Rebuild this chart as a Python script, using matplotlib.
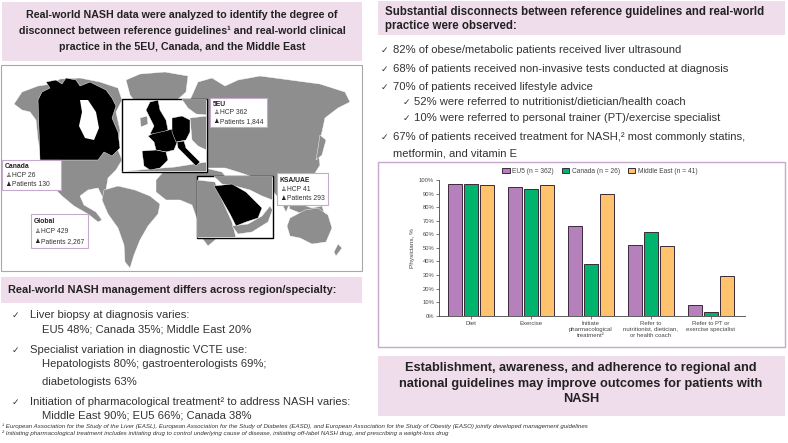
import matplotlib
matplotlib.use("Agg")
import matplotlib.pyplot as plt
from matplotlib.patches import Rectangle, Polygon
import numpy as np

plt.rcParams['font.family'] = ['Liberation Sans', 'DejaVu Sans']

# chart data
categories = ["Diet", "Exercise", "Initiate\npharmacological\ntreatment²",
              "Refer to\nnutritionist, dietician,\nor health coach",
              "Refer to PT or\nexercise specialist"]
series_labels = ["EU5 (n = 362)", "Canada (n = 26)", "Middle East (n = 41)"]
eu5 = [97, 95, 66, 52, 8]
canada = [97, 93, 38, 62, 3]
middle_east = [96, 96, 90, 51, 29]
yticks = list(range(0, 101, 10))

# map call-outs
map_labels = [
    ("5EU", "HCP 362", "Patients 1,844"),
    ("Canada", "HCP 26", "Patients 130"),
    ("KSA/UAE", "HCP 41", "Patients 293"),
    ("Global", "HCP 429", "Patients 2,267"),
]

PINK = "#F0DDEC"
PURPLE_EDGE = "#C6AACB"
LAND = "#8E8E8E"
colors = ["#B580BC", "#00B46E", "#FFC36E"]

fig = plt.figure(figsize=(7.88, 4.43), dpi=100)
bg = fig.add_axes([0, 0, 1, 1])
bg.set_xlim(0, 788)
bg.set_ylim(443, 0)
bg.axis('off')


def box(x0, y0, x1, y1, fc='white', ec='none', lw=0.8, z=1):
    bg.add_patch(Rectangle((x0, y0), x1 - x0, y1 - y0, facecolor=fc,
                           edgecolor=ec, linewidth=lw, zorder=z))


def shape(pts, fc=LAND, z=2, ec='white', lw=0.3):
    bg.add_patch(Polygon(pts, closed=True, facecolor=fc, edgecolor=ec,
                         linewidth=lw, zorder=z))


# ---- left column ----
box(2, 2, 362, 61, fc=PINK)
hdr = ["Real-world NASH data were analyzed to identify the degree of",
       "disconnect between reference guidelines¹ and real-world clinical",
       "practice in the 5EU, Canada, and the Middle East"]
for yy, t in zip([15, 31, 47], hdr):
    bg.text(182, yy, t, ha='center', va='center', fontsize=7.7,
            fontweight='bold', color='#222222')

box(1, 65, 362, 271, fc='white', ec='#A8A8A8', lw=0.8)

# rough world map
shape([(14, 104), (22, 92), (38, 86), (52, 84), (60, 79), (80, 78), (100, 82),
       (118, 88), (122, 100), (116, 112), (120, 130), (118, 150), (122, 160),
       (116, 170), (108, 178), (106, 190), (110, 203), (104, 200), (98, 188),
       (88, 190), (80, 196), (84, 205), (96, 212), (102, 220), (98, 222),
       (88, 214), (74, 206), (62, 196), (52, 186), (46, 174), (42, 160),
       (38, 140), (36, 120), (30, 112), (22, 110)])
shape([(38, 100), (42, 92), (50, 88), (46, 82), (56, 80), (62, 84), (66, 78),
       (76, 80), (80, 86), (90, 82), (98, 86), (106, 90), (112, 98), (116, 106),
       (112, 118), (118, 132), (120, 148), (112, 156), (104, 152), (98, 160),
       (40, 160)], fc='black', z=3)
shape([(80, 100), (88, 100), (96, 112), (99, 128), (94, 140), (85, 138),
       (79, 126), (82, 112)], fc='white', z=3.5, lw=0)
shape([(126, 80), (140, 74), (165, 72), (188, 76), (186, 92), (175, 102),
       (160, 110), (150, 118), (140, 108), (130, 95)])
shape([(104, 190), (118, 186), (135, 190), (150, 196), (160, 204), (158, 214),
       (148, 226), (140, 240), (134, 255), (130, 268), (125, 262), (124, 245),
       (118, 228), (108, 214), (102, 200)])
shape([(165, 170), (185, 166), (205, 168), (222, 172), (232, 185), (240, 192),
       (236, 205), (226, 222), (215, 240), (208, 246), (202, 238), (198, 222),
       (192, 205), (180, 200), (166, 200), (156, 192), (156, 180)])
shape([(190, 100), (198, 82), (212, 78), (225, 86), (238, 80), (260, 76),
       (290, 80), (320, 84), (345, 92), (350, 102), (338, 108), (325, 118),
       (322, 132), (318, 150), (320, 165), (312, 178), (300, 185), (292, 198),
       (286, 212), (280, 200), (272, 190), (260, 186), (250, 176), (238, 172),
       (225, 168), (205, 168), (195, 160), (188, 140), (186, 118)])
shape([(288, 202), (300, 204), (312, 208), (322, 206), (324, 212), (300, 213),
       (290, 209)])
shape([(320, 135), (326, 140), (322, 155), (316, 160), (318, 148)])
shape([(290, 218), (305, 210), (318, 208), (328, 215), (332, 228), (326, 242),
       (312, 244), (300, 238), (290, 236), (287, 226)])
shape([(338, 244), (342, 248), (336, 256), (334, 252)])

# 5EU inset
box(122, 99, 207, 172, fc='white', ec='black', lw=1.0, z=4)
shape([(182, 99.5), (206.5, 99.5), (206.5, 115), (196, 114), (188, 108)], z=5)
shape([(190, 118), (206.5, 116), (206.5, 150), (198, 146), (192, 140)], z=5)
shape([(122.5, 171.5), (150, 169), (175, 167), (206.5, 162), (206.5, 171.5)], z=5)
shape([(140, 118), (147, 116), (148, 124), (141, 127)], z=5)
shape([(150, 102), (158, 100), (160, 110), (166, 120), (168, 130), (160, 134),
       (150, 134), (154, 126), (150, 118), (146, 110)], fc='black', z=6)
shape([(152, 134), (165, 131), (176, 128), (178, 140), (174, 150), (166, 152),
       (156, 150), (154, 142), (148, 136)], fc='black', z=6)
shape([(142, 151), (156, 150), (166, 152), (168, 160), (160, 168), (150, 170),
       (144, 166)], fc='black', z=6)
shape([(172, 118), (182, 116), (190, 120), (190, 132), (186, 140), (176, 142),
       (172, 132)], fc='black', z=6)
shape([(177, 142), (184, 141), (186, 148), (194, 156), (200, 162), (196, 166),
       (190, 160), (182, 152), (178, 148)], fc='black', z=6)

# Middle East inset
box(197, 176, 273, 238, fc='white', ec='black', lw=1.0, z=4)
shape([(197.5, 180), (215, 182), (222, 200), (232, 222), (236, 237.5),
       (197.5, 237.5)], z=5)
shape([(214, 176.5), (272.5, 176.5), (272.5, 200), (262, 196), (250, 190),
       (235, 186), (222, 184)], z=5)
shape([(232, 226), (248, 224), (262, 216), (270, 206), (272.5, 210), (268, 222),
       (252, 232), (238, 234)], z=5)
shape([(214, 186), (232, 184), (246, 192), (256, 202), (262, 208), (258, 218),
       (246, 222), (236, 226), (230, 214), (222, 200)], fc='black', z=6)

# call-out boxes
label_boxes = [(210, 98, 267, 127), (2, 160, 61, 190), (277, 173, 328, 205),
               (31, 214, 88, 248)]
for (x0, y0, x1, y1), (title, hcp, pts) in zip(label_boxes, map_labels):
    box(x0, y0, x1, y1, fc='white', ec=PURPLE_EDGE, lw=0.8, z=7)
    step = (y1 - y0) / 3.3
    bg.text(x0 + 3, y0 + step * 0.75, title, fontsize=4.9, fontweight='bold',
            va='center', zorder=8, color='#222222')
    bg.text(x0 + 3, y0 + step * 1.7, "♙", fontsize=4.6, va='center', zorder=8,
            family='DejaVu Sans', color='#333333')
    bg.text(x0 + 10, y0 + step * 1.7, hcp, fontsize=4.9, va='center', zorder=8,
            color='#333333')
    bg.text(x0 + 3, y0 + step * 2.65, "♟", fontsize=4.6, va='center', zorder=8,
            family='DejaVu Sans', color='#222222')
    bg.text(x0 + 10, y0 + step * 2.65, pts, fontsize=4.9, va='center', zorder=8,
            color='#333333')

box(1, 277, 362, 303, fc=PINK)
bg.text(8, 290, "Real-world NASH management differs across region/specialty:",
        fontsize=7.9, fontweight='bold', va='center', color='#222222')

left_lines = [
    (30, 315, "Liver biopsy at diagnosis varies:", True),
    (42, 329, "EU5 48%; Canada 35%; Middle East 20%", False),
    (30, 350, "Specialist variation in diagnostic VCTE use:", True),
    (42, 364, "Hepatologists 80%; gastroenterologists 69%;", False),
    (42, 382, "diabetologists 63%", False),
    (30, 402, "Initiation of pharmacological treatment² to address NASH varies:", True),
    (42, 416, "Middle East 90%; EU5 66%; Canada 38%", False),
]
for x, y, t, chk in left_lines:
    if chk:
        bg.text(12, y, "✓", fontsize=6.5, va='center', color='#333333',
                family='DejaVu Sans')
    bg.text(x, y, t, fontsize=8.1, va='center', color='#333333')

bg.text(2, 426, "¹ European Association for the Study of the Liver (EASL), European Association "
        "for the Study of Diabetes (EASD), and European Association for the Study of Obesity "
        "(EASO) jointly developed management guidelines",
        fontsize=4.4, style='italic', va='center', color='#333333')
bg.text(2, 433.5, "² Initiating pharmacological treatment includes initiating drug to control "
        "underlying cause of disease, initiating off-label NASH drug, and prescribing a "
        "weight-loss drug", fontsize=4.4, style='italic', va='center', color='#333333')

# ---- right column ----
box(378, 1, 785, 35, fc=PINK)
bg.text(385, 12, "Substantial disconnects between reference guidelines and real-world",
        fontsize=8.3, fontweight='bold', va='center', color='#222222')
bg.text(385, 26, "practice were observed:", fontsize=8.3, fontweight='bold',
        va='center', color='#222222')

right_lines = [
    (381, 393, 50, "82% of obese/metabolic patients received liver ultrasound", True),
    (381, 393, 69, "68% of patients received non-invasive tests conducted at diagnosis", True),
    (381, 393, 87, "70% of patients received lifestyle advice", True),
    (403, 414, 102, "52% were referred to nutritionist/dietician/health coach", True),
    (403, 414, 118, "10% were referred to personal trainer (PT)/exercise specialist", True),
    (381, 393, 137, "67% of patients received treatment for NASH,² most commonly statins,", True),
    (381, 393, 153, "metformin, and vitamin E", False),
]
for cx, tx, y, t, chk in right_lines:
    if chk:
        bg.text(cx, y, "✓", fontsize=6.5, va='center', color='#333333',
                family='DejaVu Sans')
    bg.text(tx, y, t, fontsize=8.1, va='center', color='#333333')

box(378, 162, 785, 347, fc='white', ec=PURPLE_EDGE, lw=1.0)

box(378, 356, 785, 416, fc=PINK)
for yy, t in zip([368, 383.5, 399.5],
                 ["Establishment, awareness, and adherence to regional and",
                  "national guidelines may improve outcomes for patients with",
                  "NASH"]):
    bg.text(581, yy, t, ha='center', va='center', fontsize=9.2,
            fontweight='bold', color='#222222')

# ---- bar chart ----
ax = fig.add_axes([439 / 788, (443 - 315.7) / 443, 306 / 788, 135.7 / 443])
x = np.arange(len(categories))
w = 0.223
off = 0.267
for i, (vals, lab) in enumerate(zip([eu5, canada, middle_east], series_labels)):
    ax.bar(x + (i - 1) * off, vals, width=w, color=colors[i], edgecolor='#3A2A3A',
           linewidth=0.7, label=lab, zorder=3)
ax.set_xlim(-0.533, 4.567)
ax.set_ylim(0, 100)
ax.set_yticks(yticks)
ax.set_yticklabels([f"{v}%" for v in yticks], fontsize=4.2, color='#444444')
ax.set_xticks(x)
ax.set_xticklabels(categories, fontsize=4.3, color='#444444', linespacing=1.25)
ax.tick_params(axis='both', length=2, width=0.5, color='#444444', pad=1.5)
ax.set_ylabel("Physicians, %", fontsize=4.6, color='#444444', labelpad=3)
for s in ['top', 'right']:
    ax.spines[s].set_visible(False)
for s in ['left', 'bottom']:
    ax.spines[s].set_linewidth(0.6)
    ax.spines[s].set_color('#444444')
ax.patch.set_alpha(0)
leg = ax.legend(loc='center', bbox_to_anchor=(0.526, 1.066), ncol=3, fontsize=4.8,
                frameon=False, handlelength=1.1, handleheight=0.7, columnspacing=1.2,
                handletextpad=0.4)
for t in leg.get_texts():
    t.set_color('#444444')

fig.savefig("out.png", dpi=100)
